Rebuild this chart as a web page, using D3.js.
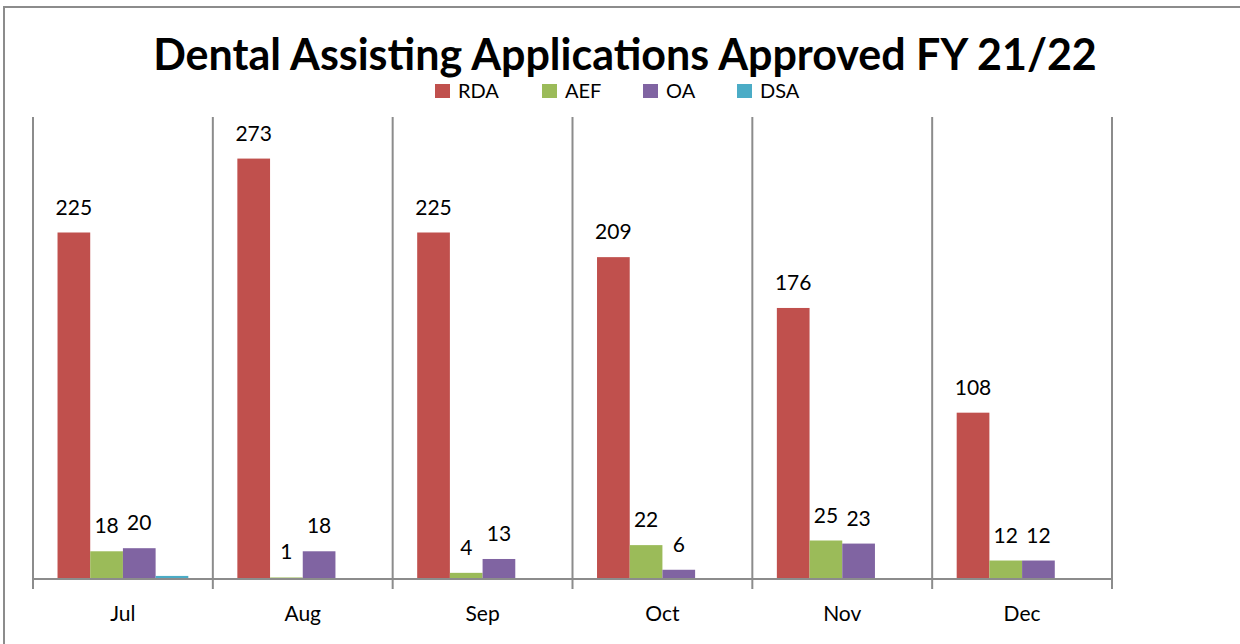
<!DOCTYPE html>
<html>
<head>
<meta charset="utf-8">
<script src="https://cdn.jsdelivr.net/npm/d3@7"></script>
<style>
  body { margin: 0; background: #fff; }
  text { font-family: Lato, "Open Sans", sans-serif; fill: #000; }
</style>
</head>
<body>
<svg id="chart" width="1240" height="644"></svg>
<script>
const months = ["Jul", "Aug", "Sep", "Oct", "Nov", "Dec"];
const seriesNames = ["RDA", "AEF", "OA", "DSA"];
const rda = [225, 273, 225, 209, 176, 108];
const aef = [18, 1, 4, 22, 25, 12];
const oa = [20, 18, 13, 6, 23, 12];
const dsa = [2, 0, 0, 0, 0, 0];
const colors = ["#C0504D", "#9BBB59", "#8064A2", "#4BACC6"];

const values = [rda, aef, oa, dsa];
const data = months.map((m, i) => ({
  month: m,
  vals: seriesNames.map((s, j) => ({ key: s, value: values[j][i] }))
}));

const margin = {top: 117, right: 128, bottom: 65, left: 33}
  , width = 1240
  , height = 644;

const svg = d3.select("#chart");

// outer frame
svg.append("rect")
  .attr("x", 4)
  .attr("y", 7)
  .attr("width", 1250)
  .attr("height", 660)
  .attr("fill", "none")
  .attr("stroke", "#8c8c8c")
  .attr("stroke-width", 2);

svg.append("text")
  .attr("x", 625)
  .attr("y", 70)
  .attr("text-anchor", "middle")
  .style("font-weight", "bold")
  .style("font-size", "43px")
  .text("Dental Assisting Applications Approved FY 21/22");

const xScale = d3.scaleBand()
  .domain(months)
  .range([margin.left, width - margin.right]);

const xInner = d3.scaleBand()
  .domain(seriesNames)
  .range([0, xScale.bandwidth()])
  .paddingInner(0)
  .paddingOuter(0.75);

const yScale = d3.scaleLinear()
  .domain([0, 300])
  .range([height - margin.bottom, margin.top]);

const baseY = yScale(0);

// separators / gridlines
const edges = months.map(m => xScale(m)).concat([xScale(months[months.length - 1]) + xScale.bandwidth()]);
svg.append("g")
  .selectAll("line")
  .data(edges)
  .enter().append("line")
  .attr("x1", d => d).attr("x2", d => d)
  .attr("y1", margin.top)
  .attr("y2", baseY + 10)
  .attr("stroke", "#8c8c8c")
  .attr("stroke-width", 2);

const groups = svg.append("g")
  .selectAll("g")
  .data(data)
  .enter().append("g")
  .attr("transform", d => "translate(" + xScale(d.month) + ",0)");

groups.selectAll("rect")
  .data(d => d.vals)
  .enter().append("rect")
  .attr("x", d => xInner(d.key))
  .attr("width", xInner.bandwidth())
  .attr("y", d => yScale(d.value))
  .attr("height", d => baseY - yScale(d.value))
  .attr("fill", (d, i) => colors[i]);

groups.selectAll("text")
  .data(d => d.vals.filter(v => v.key !== "DSA"))
  .enter().append("text")
  .attr("x", d => xInner(d.key) + xInner.bandwidth() / 2)
  .attr("y", d => yScale(d.value) - 18)
  .attr("text-anchor", "middle")
  .style("font-size", "21px")
  .text(d => d.value);

// baseline
svg.append("line")
  .attr("x1", margin.left)
  .attr("x2", width - margin.right)
  .attr("y1", baseY)
  .attr("y2", baseY)
  .attr("stroke", "#8c8c8c")
  .attr("stroke-width", 2);

// month labels
svg.append("g")
  .selectAll("text")
  .data(months)
  .enter().append("text")
  .attr("x", d => xScale(d) + xScale.bandwidth() / 2)
  .attr("y", baseY + 42)
  .attr("text-anchor", "middle")
  .style("font-size", "21px")
  .text(d => d);

// legend
const legend = svg.append("g")
  .selectAll("g")
  .data(seriesNames)
  .enter().append("g")
  .attr("transform", (d, i) => "translate(" + [435, 542, 643, 737][i] + ",84)");

legend.append("rect")
  .attr("width", 15)
  .attr("height", 14)
  .attr("fill", (d, i) => colors[i]);

legend.append("text")
  .attr("x", 23)
  .attr("y", 14)
  .style("font-size", "20px")
  .text(d => d);
</script>
</body>
</html>
